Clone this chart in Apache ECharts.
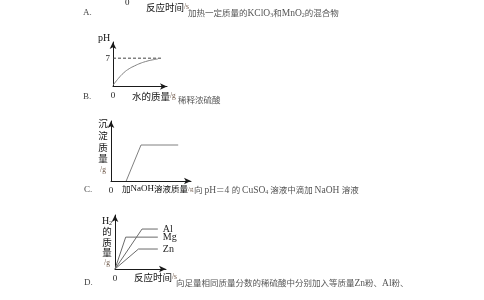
<!DOCTYPE html>
<html><head><meta charset="utf-8">
<script src="https://cdn.jsdelivr.net/npm/echarts@6/dist/echarts.min.js"></script>
<style>html,body{margin:0;padding:0;background:#fff}#c{width:484px;height:300px}</style>
</head><body><div id="c"></div>
<script>
// ---- data ----
const bWaterX = [0, 1, 2, 3, 4, 5, 6, 7, 8.3];
const bPH     = [0.3, 2.0, 3.4, 4.4, 5.1, 5.7, 6.15, 6.5, 6.8];
const bRefX   = [0, 9.1];
const bRefPH  = [7, 7];
const bYTicks = [7];
const xTicks  = [0];

const cNaOH   = [1.9, 3.75, 8.4];
const cPrecip = [0, 6.0, 6.0];

const dTime   = { Al: [0, 5.3, 8.4], Mg: [0, 2.1, 8.4], Zn: [0, 4.6, 8.4] };
const dH2     = { Al: [0, 7.4, 7.4], Mg: [0, 5.9, 5.9], Zn: [0, 3.7, 3.7] };
const metals  = ['Al', 'Mg', 'Zn'];

// ---- styles ----
const CJK = 'Noto Sans CJK SC';
const SERIF = 'Liberation Serif';
const axisCol = '#1a1a1a';
const lineCol = '#808080';
const descCol = '#555';

function pairs(xs, ys) { return xs.map((x, i) => [x, ys[i]]); }

function mkX(gi, max) {
  return {
    type: 'value', gridIndex: gi, min: 0, max: max, interval: max,
    axisLine: { show: true, lineStyle: { color: axisCol, width: 1 }, symbol: ['none', 'arrow'], symbolSize: [5, 7] },
    axisTick: { show: false }, splitLine: { show: false },
    axisLabel: { show: true, margin: 5, fontSize: 9, fontFamily: SERIF, color: '#222',
      formatter: v => xTicks.includes(v) ? String(v) : '' }
  };
}
function mkY(gi, max, ticks, interval) {
  return {
    type: 'value', gridIndex: gi, min: 0, max: max, interval: interval || max,
    axisLine: { show: true, lineStyle: { color: axisCol, width: 1 }, symbol: ['none', 'arrow'], symbolSize: [5, 7] },
    axisTick: { show: false }, splitLine: { show: false },
    axisLabel: { show: !!ticks, margin: 3, fontSize: 9, fontFamily: SERIF, color: '#222',
      formatter: v => (ticks && ticks.includes(v)) ? String(v) : '' }
  };
}

const descRich = {
  c: { fontFamily: CJK, fontSize: 8.5, fill: descCol },
  l: { fontFamily: SERIF, fontSize: 9.5, fill: descCol },
  s: { fontFamily: SERIF, fontSize: 6, fill: descCol, verticalAlign: 'bottom' }
};
const nameRich = {
  c: { fontFamily: CJK, fontSize: 9.5, fill: '#111' },
  l: { fontFamily: SERIF, fontSize: 10, fill: '#111' },
  g: { fontFamily: SERIF, fontSize: 7.5, fill: '#6b5545' },
  s: { fontFamily: SERIF, fontSize: 6, fill: '#111', verticalAlign: 'bottom' }
};
const nameRichSmall = {
  c: { fontFamily: CJK, fontSize: 8.5, fill: '#111' },
  l: { fontFamily: SERIF, fontSize: 9, fill: '#111' },
  g: { fontFamily: SERIF, fontSize: 7, fill: '#6b5545' }
};
function txt(x, y, text, rich, align) {
  return { type: 'text', x: x, y: y, silent: true,
    style: { text: text, rich: rich, align: align || 'left', verticalAlign: 'middle' } };
}
function plain(x, y, text, size, family, color) {
  return { type: 'text', x: x, y: y, silent: true,
    style: { text: text, fontSize: size, fontFamily: family, fill: color, align: 'left', verticalAlign: 'middle' } };
}
function vert(x, y, text, lh) {
  return { type: 'text', x: x, y: y, silent: true,
    style: { text: text, rich: Object.fromEntries(Object.entries(nameRich).map(([k, v]) => [k, Object.assign({ lineHeight: lh }, v)])),
      align: 'center', verticalAlign: 'middle' } };
}

const chart = echarts.init(document.getElementById('c'), null, { renderer: 'canvas' });
chart.setOption({
  animation: false,
  backgroundColor: '#fff',
  grid: [
    { left: 113, top: 42, width: 54, height: 44.5 },
    { left: 111, top: 121, width: 80, height: 60 },
    { left: 115, top: 215, width: 51, height: 54 }
  ],
  xAxis: [mkX(0, 10), mkX(1, 10), mkX(2, 10)],
  yAxis: [mkY(0, 11, bYTicks, 7), mkY(1, 10), mkY(2, 10)],
  series: [
    { type: 'line', xAxisIndex: 0, yAxisIndex: 0, data: pairs(bWaterX, bPH), smooth: 0.5, showSymbol: false,
      lineStyle: { color: lineCol, width: 1 } },
    { type: 'line', xAxisIndex: 0, yAxisIndex: 0, data: pairs(bRefX, bRefPH), showSymbol: false,
      lineStyle: { color: '#444', width: 1, type: [3, 2] } },
    { type: 'line', xAxisIndex: 1, yAxisIndex: 1, data: pairs(cNaOH, cPrecip), showSymbol: false,
      lineStyle: { color: lineCol, width: 1 } },
    ...metals.map(m => ({
      type: 'line', name: m, xAxisIndex: 2, yAxisIndex: 2, data: pairs(dTime[m], dH2[m]), showSymbol: false,
      lineStyle: { color: '#6a6a6a', width: 1 },
      endLabel: { show: true, formatter: '{a}', distance: 5, fontSize: 10, fontFamily: SERIF, color: '#222' }
    }))
  ],
  graphic: [
    // A row
    plain(83, 13, 'A.', 9, SERIF, '#444'),
    plain(125, 3, '0', 9, SERIF, '#222'),
    txt(146, 7, '{c|反应时间}{g|/s}', nameRich),
    txt(188, 13, '{c|加热一定质量的}{l|KClO}{s|3}{c|和}{l|MnO}{s|2}{c|的混合物}', descRich),
    // B row
    plain(98, 38, 'pH', 10, SERIF, '#111'),
    plain(83, 97, 'B.', 9, SERIF, '#444'),
    txt(132, 96, '{c|水的质量}{g|/g}', nameRich),
    txt(178, 100, '{c|稀释浓硫酸}', descRich),
    // C row
    vert(103, 147, '{c|沉}\n{c|淀}\n{c|质}\n{c|量}\n{g|/g}', 11.7),
    plain(84, 190, 'C.', 9, SERIF, '#444'),
    txt(122, 189, '{c|加}{l|NaOH}{c|溶液质量}{g|/g}', nameRichSmall),
    txt(194, 190, '{c|向 }{l|pH}{c|＝}{l|4 }{c|的 }{l|CuSO}{s|4}{c| 溶液中滴加 }{l|NaOH }{c|溶液}', descRich),
    // D row
    vert(107, 242, '{l|H}{s|2}\n{c|的}\n{c|质}\n{c|量}\n{g|/g}', 10.3),
    plain(84, 283, 'D.', 9, SERIF, '#444'),
    txt(134, 277, '{c|反应时间}{g|/s}', nameRich),
    txt(176, 283, '{c|向足量相同质量分数的稀硫酸中分别加入等质量}{l|Zn}{c|粉、}{l|Al}{c|粉、}', descRich)
  ]
});
</script>
</body></html>
